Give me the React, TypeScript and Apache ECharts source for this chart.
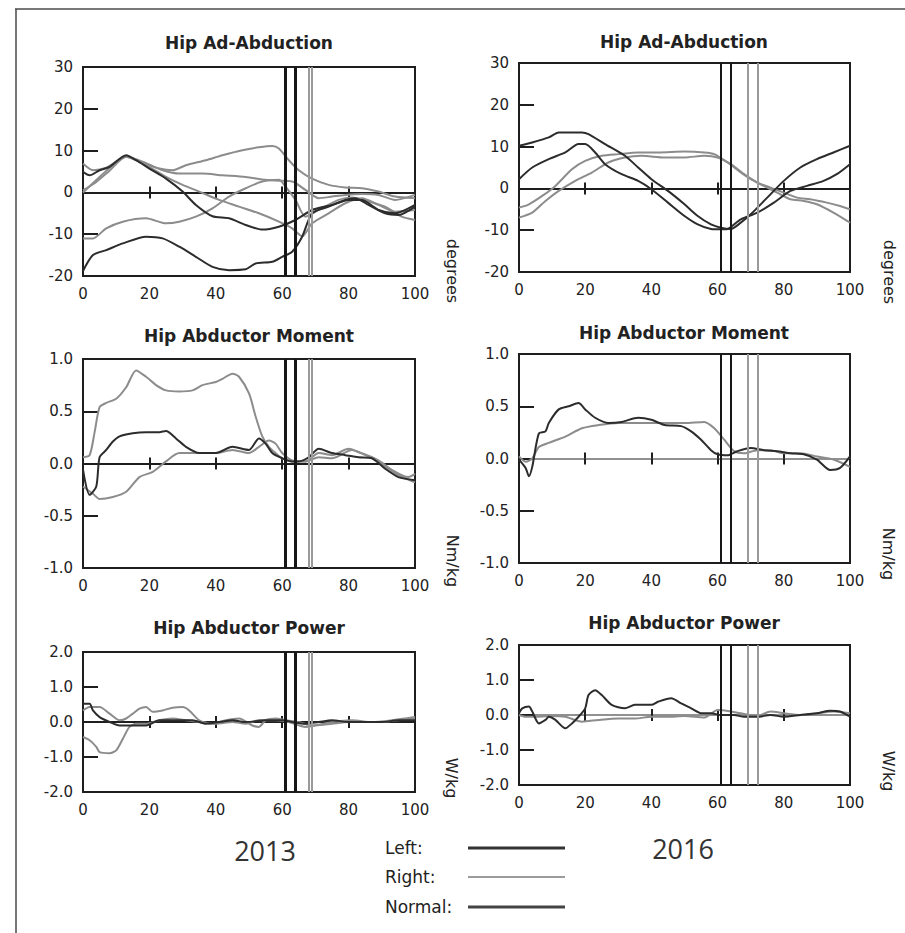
import React, { useEffect, useRef } from "react";
import * as echarts from "echarts";

type Pt = [number, number];

// ---- Hip ad-abduction (degrees), % gait cycle ----
const abd13DarkA: Pt[] = [[0,4.9],[2,4.1],[5,5.3],[8,6.1],[13,8.9],[16,7.7],[20,5.7],[25,3.3],[30,0.2],[34,-3],[39,-5.7],[44,-6.2],[49,-7.8],[54,-8.9],[59,-8.2],[64,-6.6],[69,-4.2],[75,-3],[80,-1.8],[84,-1.8],[89,-4.2],[94,-5],[100,-3]];
const abd13DarkB: Pt[] = [[0,-18.8],[3,-15],[7,-13.8],[12,-12.2],[19,-10.6],[24,-11],[29,-13],[34,-15.4],[39,-17.8],[44,-18.6],[49,-18.4],[52,-17],[57,-16.6],[60,-15.4],[63,-14.2],[66,-10.6],[69,-5],[74,-3.4],[79,-1.8],[82,-1.4],[86,-3],[91,-5],[95,-5.4],[100,-3.4]];
const abd13LightC: Pt[] = [[0,-11],[3,-11],[7,-8.6],[12,-7],[19,-6.2],[25,-7.4],[29,-7],[34,-5.8],[39,-3.8],[44,-1],[49,1],[54,2.6],[59,3],[61,1.4],[64,-1.8],[67,-5.8],[71,-4.2],[77,-1.8],[81,-1.2],[86,-2.2],[91,-3.4],[96,-5.8],[100,-6.6]];
const abd13LightD: Pt[] = [[0,0],[5,3.7],[9,6.5],[13,8.5],[18,7],[23,5.7],[27,5.3],[31,6.5],[37,7.7],[42,8.9],[48,10.1],[53,10.8],[57,11.1],[59,10.5],[62,7.7],[65,5.3],[69,3.3],[74,1.8],[79,1.2],[84,1],[89,0.2],[94,-1],[100,-1.4]];
const abd13LightE: Pt[] = [[0,6.9],[3,5.3],[7,5.9],[13,8.5],[19,7],[24,5.3],[29,4.5],[36,4.5],[42,4.1],[49,3.7],[55,3],[59,2.8],[63,2.6],[67,0.6],[71,-1.4],[75,-1],[79,-0.6],[84,-0.4],[89,-0.6],[94,-1.8],[100,-0.6]];
const abd13LightF: Pt[] = [[0,0.5],[4,2.5],[8,5.2],[13,8.5],[19,6.5],[25,3.7],[30,1.8],[35,0.2],[41,-1.8],[47,-3.4],[53,-5],[59,-7],[63,-8.6],[66,-10.5],[69,-7.4],[74,-5],[79,-2.6],[84,-1.4],[89,-3],[94,-4.6],[100,-4.2]];

const abd16DarkA: Pt[] = [[0,10.2],[4,11],[9,12.2],[12,13.4],[19,13.4],[21,13],[26,10.6],[32,7.8],[36,5],[40,2.2],[45,-0.6],[50,-3.8],[54,-6.6],[58,-8.6],[61,-9.4],[64,-9.7],[67,-8.2],[70,-6.2],[75,-2.2],[80,1.8],[85,5],[90,7],[95,8.6],[100,10.2]];
const abd16DarkB: Pt[] = [[0,2.2],[4,5],[9,7],[14,8.6],[18,10.6],[20,10.6],[23,8.6],[26,5.8],[31,3.4],[36,1.8],[40,-0.2],[45,-3.4],[50,-6.6],[54,-8.6],[58,-9.7],[61,-9.8],[63,-9.7],[67,-7.4],[72,-5.8],[77,-3.4],[82,-0.6],[87,0.6],[92,1.8],[96,3.4],[100,5.8]];
const abd16LightA: Pt[] = [[0,-4.6],[3,-3.8],[7,-1.8],[11,0.6],[16,4.6],[20,6.6],[25,7.8],[30,8.2],[36,8.6],[42,8.6],[50,8.8],[56,8.6],[59,8.2],[63,6.2],[67,3.8],[70,2.2],[74,0.6],[78,-1],[82,-2.6],[86,-3],[90,-3.8],[95,-5.8],[100,-8.2]];
const abd16LightB: Pt[] = [[0,-7],[4,-5.8],[8,-3],[12,-0.6],[17,1.8],[22,3.8],[27,6.2],[32,7.4],[37,7.8],[44,7.4],[50,7.4],[56,7.8],[60,7.4],[64,5.8],[68,3.4],[72,1.4],[76,0.2],[80,-1],[84,-2.2],[88,-2.6],[93,-3.4],[97,-4.2],[100,-5]];

// ---- Hip abductor moment (Nm/kg) ----
const mom13LightA: Pt[] = [[0,0.06],[2,0.08],[3.5,0.3],[5,0.54],[7,0.58],[10,0.62],[13,0.73],[16,0.89],[19,0.83],[22,0.75],[25,0.7],[29,0.69],[33,0.7],[36,0.75],[40,0.78],[42,0.81],[45,0.86],[47,0.83],[50,0.67],[52,0.45],[54,0.26],[56,0.16],[58,0.1],[60,0.05],[63,0.02],[67,0.02],[71,0.1],[75,0.08],[80,0.14],[83,0.11],[87,0.06],[91,-0.03],[95,-0.11],[100,-0.18]];
const mom13LightB: Pt[] = [[0,-0.22],[3,-0.29],[5,-0.34],[9,-0.32],[13,-0.27],[17,-0.13],[21,-0.08],[25,0.02],[29,0.1],[35,0.1],[40,0.1],[45,0.13],[50,0.1],[53,0.16],[56,0.22],[58,0.19],[60,0.1],[63,0.03],[67,0.02],[71,0.06],[75,0.05],[81,0.13],[85,0.08],[89,0.03],[93,-0.06],[98,-0.13],[100,-0.1]];
const mom13Dark: Pt[] = [[0,-0.06],[2,-0.3],[4,-0.22],[5,0.06],[7,0.13],[9,0.21],[11,0.26],[15,0.29],[19,0.3],[23,0.3],[25,0.31],[28,0.24],[31,0.16],[35,0.1],[40,0.1],[45,0.16],[50,0.13],[53,0.24],[55,0.19],[57,0.1],[60,0.05],[63,0.02],[65,0.02],[68,0.06],[71,0.14],[75,0.1],[79,0.08],[83,0.06],[87,0.05],[91,-0.05],[95,-0.13],[100,-0.16]];

const mom16Light: Pt[] = [[0,0.02],[2,-0.03],[4,0],[6,0.11],[9,0.15],[14,0.21],[19,0.29],[24,0.32],[30,0.34],[35,0.34],[40,0.34],[45,0.34],[50,0.34],[56,0.35],[59,0.29],[62,0.18],[65,0.07],[68,0.05],[72,0.08],[76,0.08],[80,0.05],[85,0.05],[90,0.02],[95,-0.01],[100,-0.08]];
const mom16Dark: Pt[] = [[0,-0.01],[2,-0.09],[3,-0.17],[4,-0.08],[6,0.24],[8,0.26],[9,0.34],[12,0.47],[15,0.5],[18,0.53],[20,0.47],[23,0.39],[27,0.34],[31,0.35],[36,0.39],[40,0.37],[44,0.32],[49,0.31],[52,0.26],[55,0.18],[58,0.08],[60,0.04],[63,0.03],[66,0.07],[70,0.1],[74,0.08],[78,0.07],[82,0.05],[86,0.04],[90,-0.01],[94,-0.11],[97,-0.09],[100,0.02]];

// ---- Hip abductor power (W/kg) ----
const pow13LightA: Pt[] = [[0,-0.43],[2,-0.52],[4,-0.71],[5,-0.86],[8,-0.89],[10,-0.81],[12,-0.48],[14,-0.14],[16,-0.05],[19,-0.05],[23,0.05],[27,0.1],[31,0.05],[35,0],[40,-0.05],[45,0],[49,-0.05],[53,0.05],[58,0.05],[62,0],[67,-0.14],[70,-0.1],[75,-0.05],[80,0],[85,0],[90,0],[95,0.05],[100,0.1]];
const pow13LightB: Pt[] = [[0,0.33],[2,0.43],[5,0.43],[8,0.24],[11,0.05],[13,0.1],[15,0.24],[17,0.38],[19,0.43],[21,0.29],[24,0.33],[27,0.41],[30,0.43],[32,0.33],[35,0.05],[39,-0.05],[43,0.05],[47,0.1],[51,-0.1],[53,-0.14],[55,0.05],[58,0.1],[61,0.05],[65,0],[69,-0.1],[75,0],[81,0.05],[87,0],[93,0.05],[100,0.14]];
const pow13Dark: Pt[] = [[0,0.52],[2,0.52],[3,0.33],[5,0.14],[8,0],[11,-0.1],[15,-0.1],[19,-0.1],[23,0.05],[29,0.05],[33,0.05],[37,-0.05],[41,0],[45,0.05],[49,0],[55,0.05],[60,0.05],[63,0],[67,-0.05],[71,0],[75,0.05],[80,0],[85,0],[90,0],[95,0.05],[100,0.05]];

const pow16Light: Pt[] = [[0,0],[2,-0.05],[5,-0.05],[9,-0.03],[14,-0.05],[19,-0.19],[24,-0.14],[30,-0.1],[35,-0.1],[40,-0.05],[45,-0.05],[50,-0.03],[56,-0.07],[60,0.14],[64,0.1],[68,0.03],[72,-0.03],[76,0.1],[80,0.05],[85,0],[90,0.05],[95,0.1],[100,0.05]];
const pow16Dark: Pt[] = [[0,0.05],[1,0.19],[3,0.24],[4,0.1],[6,-0.24],[8,-0.14],[9,-0.05],[11,-0.14],[14,-0.38],[16,-0.24],[18,-0.05],[20,0.19],[21,0.57],[23,0.71],[25,0.57],[28,0.29],[32,0.19],[35,0.29],[40,0.29],[42,0.38],[46,0.48],[49,0.33],[52,0.19],[55,0.05],[58,0.05],[61,0],[65,0],[68,-0.05],[72,-0.05],[76,0],[80,-0.05],[85,0],[90,0.05],[94,0.12],[97,0.1],[100,-0.05]];

// ---- Gait events (% cycle): left/right foot-off markers ----
const events2013Dark = [61, 64];
const events2013Light = [68, 69];
const events2016Dark = [61, 64];
const events2016Light = [69, 72];

const panelTitles = ["Hip Ad-Abduction", "Hip Ad-Abduction", "Hip Abductor Moment", "Hip Abductor Moment", "Hip Abductor Power", "Hip Abductor Power"];
const unitLabels = ["degrees", "degrees", "Nm/kg", "Nm/kg", "W/kg", "W/kg"];
const yearLabels = ["2013", "2016"];
const legendLabels = ["Left:", "Right:", "Normal:"];

const DARK = "#2c2c2c";
const LIGHT = "#8c8c8c";
const INK = "#1e1e1e";
const FONT = "DejaVu Sans";

type Panel = {
  box: { left: number; top: number; width: number; height: number };
  yMin: number; yMax: number; yStep: number; dec: number;
  light: Pt[][]; dark: Pt[][];
  evDark: number[]; evLight: number[]; evDarkWidth: number;
  zeroColor: string; zeroWidth: number;
  titleAt: [number, number]; unitAt: [number, number];
};

const panels: Panel[] = [
  { box: { left: 83, top: 67, width: 332, height: 209 }, yMin: -20, yMax: 30, yStep: 10, dec: 0,
    light: [abd13LightC, abd13LightD, abd13LightE, abd13LightF], dark: [abd13DarkA, abd13DarkB],
    evDark: events2013Dark, evLight: events2013Light, evDarkWidth: 3, zeroColor: INK, zeroWidth: 2,
    titleAt: [249, 43], unitAt: [452, 271] },
  { box: { left: 519, top: 63, width: 331, height: 209 }, yMin: -20, yMax: 30, yStep: 10, dec: 0,
    light: [abd16LightA, abd16LightB], dark: [abd16DarkA, abd16DarkB],
    evDark: events2016Dark, evLight: events2016Light, evDarkWidth: 2, zeroColor: INK, zeroWidth: 2,
    titleAt: [684, 42], unitAt: [889, 272] },
  { box: { left: 83, top: 359, width: 332, height: 209 }, yMin: -1, yMax: 1, yStep: 0.5, dec: 1,
    light: [mom13LightA, mom13LightB], dark: [mom13Dark],
    evDark: events2013Dark, evLight: events2013Light, evDarkWidth: 3, zeroColor: INK, zeroWidth: 2,
    titleAt: [249, 336], unitAt: [452, 561] },
  { box: { left: 519, top: 354, width: 331, height: 209 }, yMin: -1, yMax: 1, yStep: 0.5, dec: 1,
    light: [mom16Light], dark: [mom16Dark],
    evDark: events2016Dark, evLight: events2016Light, evDarkWidth: 2, zeroColor: "#8a8a8a", zeroWidth: 1.5,
    titleAt: [684, 333], unitAt: [888, 554] },
  { box: { left: 83, top: 652, width: 332, height: 140 }, yMin: -2, yMax: 2, yStep: 1, dec: 1,
    light: [pow13LightA, pow13LightB], dark: [pow13Dark],
    evDark: events2013Dark, evLight: events2013Light, evDarkWidth: 3, zeroColor: INK, zeroWidth: 2,
    titleAt: [249, 628], unitAt: [451, 778] },
  { box: { left: 519, top: 645, width: 331, height: 140 }, yMin: -2, yMax: 2, yStep: 1, dec: 1,
    light: [pow16Light], dark: [pow16Dark],
    evDark: events2016Dark, evLight: events2016Light, evDarkWidth: 2, zeroColor: "#8a8a8a", zeroWidth: 1.5,
    titleAt: [684, 623], unitAt: [888, 771] },
];

function buildOption() {
  const grid: any[] = [];
  const xAxis: any[] = [];
  const yAxis: any[] = [];
  const series: any[] = [];
  const labelStyle = { color: "#222", fontSize: 15, fontFamily: FONT };

  panels.forEach((p, i) => {
    grid.push({ ...p.box, show: true, borderColor: INK, borderWidth: 2, backgroundColor: "transparent", containLabel: false, outerBoundsMode: "none" });

    // labelled axis along the bottom edge
    xAxis.push({
      type: "value", gridIndex: i, min: 0, max: 100, interval: 20, position: "bottom",
      axisLine: { show: false, onZero: false }, axisTick: { show: false }, splitLine: { show: false },
      axisLabel: { ...labelStyle, margin: 10 },
    });
    // zero line with ticks crossing it (one axis ticks up, one ticks down)
    [true, false].forEach((inside) => {
      xAxis.push({
        type: "value", gridIndex: i, min: 0, max: 100, interval: 20, position: "bottom",
        axisLine: { show: true, onZero: true, onZeroAxisIndex: i, lineStyle: { color: p.zeroColor, width: p.zeroWidth } },
        axisTick: { show: true, inside, length: 6, lineStyle: { color: INK, width: 2 } },
        axisLabel: { show: false }, splitLine: { show: false },
      });
    });

    yAxis.push({
      type: "value", gridIndex: i, min: p.yMin, max: p.yMax, interval: p.yStep,
      axisLine: { show: false, onZero: false },
      axisTick: { show: true, inside: true, length: 15, lineStyle: { color: INK, width: 2 } },
      splitLine: { show: false },
      axisLabel: { ...labelStyle, margin: 10, formatter: (v: number) => v.toFixed(p.dec) },
    });

    const mk = (data: Pt[], color: string) => ({
      type: "line", xAxisIndex: i * 3, yAxisIndex: i, data, showSymbol: false, symbol: "none",
      smooth: 0.25, clip: true, silent: true,
      lineStyle: { color, width: 2 },
    });
    p.light.forEach((d) => series.push(mk(d, LIGHT)));
    p.dark.forEach((d, k) => {
      const s: any = mk(d, DARK);
      if (k === p.dark.length - 1) {
        s.markLine = {
          silent: true, symbol: ["none", "none"], label: { show: false }, animation: false,
          data: [
            ...p.evDark.map((v) => ({ xAxis: v, lineStyle: { color: "#161616", width: p.evDarkWidth, type: "solid" } })),
            ...p.evLight.map((v) => ({ xAxis: v, lineStyle: { color: "#9a9a9a", width: 2, type: "solid" } })),
          ],
        };
      }
      series.push(s);
    });
  });

  const text = (x: number, y: number, t: string, size: number, extra: any = {}, rotation = 0) => ({
    type: "text", x, y, rotation, silent: true,
    style: {
      text: t, fontSize: size, fontFamily: FONT, fill: "#222",
      align: "center", verticalAlign: "middle", textAlign: "center", textVerticalAlign: "middle",
      ...extra,
    },
  });

  const graphic: any[] = [
    { type: "line", silent: true, shape: { x1: 15, y1: 9, x2: 905, y2: 9 }, style: { stroke: "#4a4a4a", lineWidth: 1.5 } },
    { type: "line", silent: true, shape: { x1: 16, y1: 9, x2: 16, y2: 933 }, style: { stroke: "#4a4a4a", lineWidth: 1.5 } },
  ];
  panels.forEach((p, i) => {
    graphic.push(text(p.titleAt[0], p.titleAt[1], panelTitles[i], 17, { fontWeight: "bold" }));
    graphic.push(text(p.unitAt[0], p.unitAt[1], unitLabels[i], 16, {}, -Math.PI / 2));
  });
  graphic.push(text(265, 850, yearLabels[0], 27, { fontFamily: "Open Sans", fill: "#333" }));
  graphic.push(text(683, 848, yearLabels[1], 27, { fontFamily: "Open Sans", fill: "#333" }));

  const legendRows = [
    { y: 848, stroke: "#333", w: 3 },
    { y: 877, stroke: "#7a7a7a", w: 1.5 },
    { y: 907, stroke: "#444", w: 3 },
  ];
  legendRows.forEach((r, k) => {
    graphic.push(text(385, r.y, legendLabels[k], 17, { align: "left", textAlign: "left" }));
    graphic.push({ type: "line", silent: true, shape: { x1: 468, y1: r.y, x2: 565, y2: r.y }, style: { stroke: r.stroke, lineWidth: r.w } });
  });

  return { animation: false, backgroundColor: "#fff", grid, xAxis, yAxis, series, graphic };
}

export default function App() {
  const ref = useRef<HTMLDivElement>(null);
  useEffect(() => {
    if (!ref.current) return;
    const chart = echarts.init(ref.current, undefined, { renderer: "svg" });
    chart.setOption(buildOption() as any);
    return () => chart.dispose();
  }, []);
  return <div ref={ref} style={{ position: "absolute", left: 0, top: 0, width: 905, height: 933 }} />;
}
